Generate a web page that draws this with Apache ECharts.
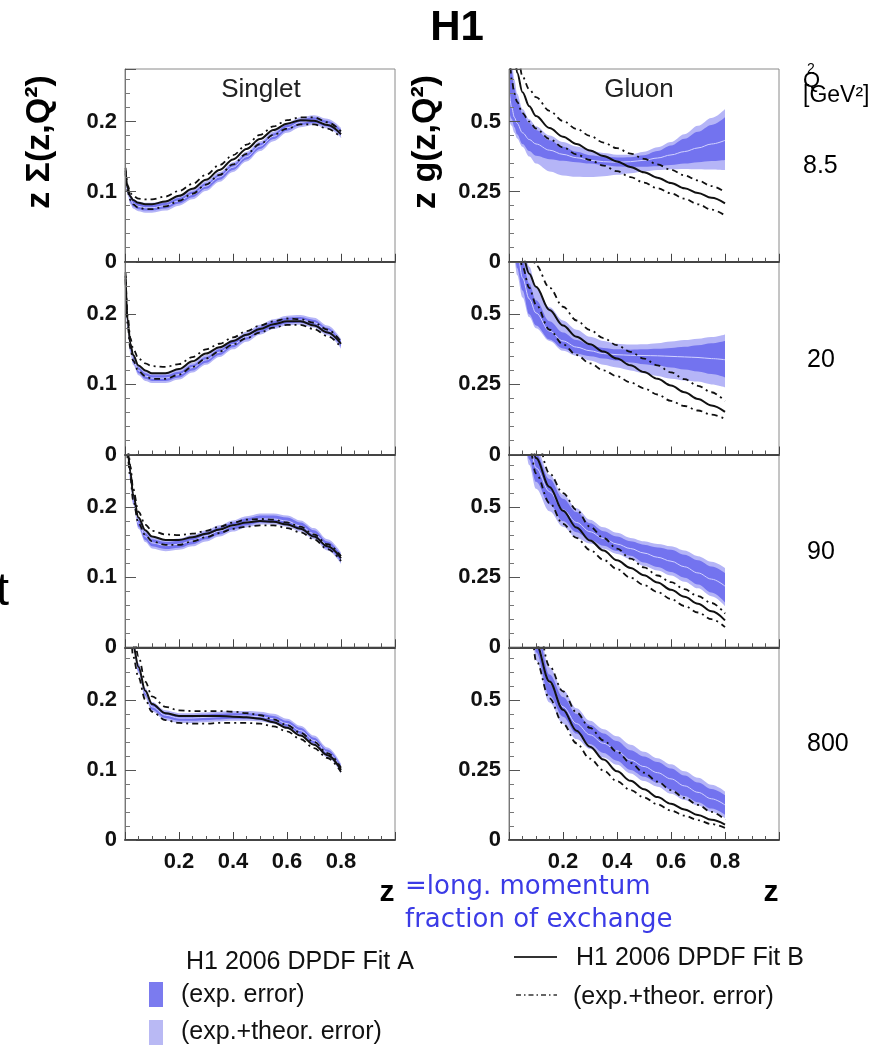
<!DOCTYPE html>
<html><head><meta charset="utf-8">
<script src="https://cdn.jsdelivr.net/npm/echarts@6/dist/echarts.min.js"></script>
<style>html,body{margin:0;padding:0;background:#fff}#c{width:896px;height:1049px}</style>
</head><body><div id="c"></div>
<script>
// ---------- data ----------
const Z = [0.002, 0.01, 0.02, 0.03, 0.05, 0.075, 0.1, 0.15, 0.2, 0.25, 0.3, 0.35, 0.4, 0.45, 0.5, 0.55, 0.6, 0.65, 0.7, 0.75, 0.8];
const xTickLabels = ['0.2', '0.4', '0.6', '0.8'];
const singletTickLabels = ['0', '0.1', '0.2'];
const gluonTickLabels = ['0', '0.25', '0.5'];
const q2Values = ['8.5', '20', '90', '800'];

// Singlet, Q2 = 8.5
const s1_aMid   = [0.128,0.102,0.089,0.083,0.079,0.077,0.077,0.080,0.087,0.096,0.108,0.121,0.135,0.150,0.165,0.179,0.191,0.199,0.202,0.197,0.184];
const s1_aExpLo = [0.124,0.098,0.085,0.079,0.075,0.073,0.073,0.076,0.083,0.092,0.104,0.117,0.131,0.146,0.161,0.175,0.187,0.195,0.198,0.193,0.180];
const s1_aExpHi = [0.132,0.106,0.093,0.087,0.083,0.081,0.081,0.084,0.091,0.100,0.112,0.125,0.139,0.154,0.169,0.183,0.195,0.203,0.206,0.201,0.188];
const s1_aTotLo = [0.121,0.095,0.082,0.076,0.072,0.070,0.070,0.073,0.080,0.089,0.101,0.114,0.128,0.143,0.158,0.172,0.184,0.192,0.195,0.190,0.177];
const s1_aTotHi = [0.135,0.109,0.096,0.090,0.086,0.084,0.084,0.087,0.094,0.103,0.115,0.128,0.142,0.157,0.172,0.186,0.198,0.206,0.209,0.204,0.191];
const s1_bMid   = [0.130,0.105,0.093,0.088,0.084,0.082,0.082,0.086,0.094,0.104,0.117,0.131,0.146,0.161,0.175,0.188,0.197,0.202,0.201,0.195,0.182];
const s1_bHi    = [0.134,0.109,0.098,0.094,0.090,0.089,0.089,0.093,0.101,0.111,0.124,0.138,0.152,0.167,0.181,0.193,0.202,0.206,0.206,0.199,0.186];
const s1_bLo    = [0.126,0.100,0.088,0.082,0.077,0.075,0.075,0.079,0.087,0.097,0.110,0.124,0.139,0.154,0.168,0.181,0.190,0.196,0.196,0.190,0.177];

// Singlet, Q2 = 20
const s2_aMid   = [0.250,0.185,0.152,0.135,0.120,0.112,0.109,0.109,0.114,0.124,0.135,0.146,0.157,0.168,0.178,0.186,0.191,0.192,0.188,0.177,0.158];
const s2_aExpLo = [0.246,0.181,0.148,0.131,0.116,0.108,0.105,0.105,0.110,0.120,0.131,0.142,0.153,0.164,0.174,0.182,0.187,0.188,0.184,0.173,0.154];
const s2_aExpHi = [0.254,0.189,0.156,0.139,0.124,0.116,0.113,0.113,0.118,0.128,0.139,0.150,0.161,0.172,0.182,0.190,0.195,0.196,0.192,0.181,0.162];
const s2_aTotLo = [0.243,0.178,0.145,0.128,0.113,0.105,0.102,0.102,0.107,0.117,0.128,0.139,0.150,0.161,0.171,0.179,0.184,0.185,0.181,0.170,0.151];
const s2_aTotHi = [0.257,0.192,0.159,0.142,0.127,0.119,0.116,0.116,0.121,0.131,0.142,0.153,0.164,0.175,0.185,0.193,0.198,0.199,0.195,0.184,0.165];
const s2_bMid   = [0.255,0.190,0.158,0.142,0.127,0.120,0.116,0.116,0.122,0.133,0.144,0.153,0.162,0.171,0.179,0.186,0.190,0.190,0.184,0.174,0.158];
const s2_bHi    = [0.260,0.196,0.166,0.151,0.137,0.130,0.126,0.125,0.129,0.139,0.150,0.158,0.167,0.176,0.184,0.190,0.194,0.193,0.188,0.178,0.161];
const s2_bLo    = [0.250,0.184,0.151,0.134,0.119,0.112,0.108,0.108,0.114,0.125,0.137,0.147,0.157,0.166,0.174,0.181,0.185,0.185,0.179,0.169,0.153];

// Singlet, Q2 = 90
const s3_aMid   = [0.320,0.280,0.245,0.212,0.177,0.158,0.149,0.145,0.147,0.152,0.159,0.166,0.173,0.179,0.183,0.183,0.180,0.173,0.162,0.146,0.127];
const s3_aExpLo = [0.315,0.275,0.240,0.207,0.172,0.153,0.144,0.140,0.142,0.147,0.154,0.161,0.168,0.174,0.178,0.178,0.175,0.168,0.157,0.141,0.122];
const s3_aExpHi = [0.325,0.285,0.250,0.217,0.182,0.163,0.154,0.150,0.152,0.157,0.164,0.171,0.178,0.184,0.188,0.188,0.185,0.178,0.167,0.151,0.132];
const s3_aTotLo = [0.312,0.272,0.237,0.204,0.169,0.150,0.141,0.137,0.139,0.144,0.151,0.158,0.165,0.171,0.175,0.175,0.172,0.165,0.154,0.138,0.119];
const s3_aTotHi = [0.328,0.288,0.253,0.220,0.185,0.166,0.157,0.153,0.155,0.160,0.167,0.174,0.181,0.187,0.191,0.191,0.188,0.181,0.170,0.154,0.135];
const s3_bMid   = [0.320,0.280,0.250,0.218,0.185,0.167,0.158,0.153,0.153,0.157,0.162,0.168,0.174,0.178,0.180,0.179,0.175,0.169,0.158,0.144,0.127];
const s3_bHi    = [0.330,0.290,0.258,0.226,0.193,0.175,0.166,0.161,0.160,0.162,0.166,0.172,0.178,0.182,0.183,0.182,0.178,0.172,0.161,0.147,0.130];
const s3_bLo    = [0.310,0.270,0.242,0.210,0.177,0.160,0.151,0.146,0.146,0.151,0.157,0.163,0.169,0.172,0.174,0.174,0.170,0.164,0.154,0.140,0.123];

// Singlet, Q2 = 800
const s4_aMid   = [0.500,0.400,0.320,0.280,0.245,0.210,0.190,0.178,0.174,0.174,0.175,0.176,0.177,0.177,0.176,0.173,0.166,0.156,0.142,0.125,0.102];
const s4_aExpLo = [0.496,0.396,0.316,0.276,0.241,0.206,0.186,0.174,0.170,0.170,0.171,0.172,0.173,0.173,0.172,0.169,0.162,0.152,0.138,0.121,0.098];
const s4_aExpHi = [0.504,0.404,0.324,0.284,0.249,0.214,0.194,0.182,0.178,0.178,0.179,0.180,0.181,0.181,0.180,0.177,0.170,0.160,0.146,0.129,0.106];
const s4_aTotLo = [0.493,0.393,0.313,0.273,0.238,0.203,0.183,0.171,0.167,0.167,0.168,0.169,0.170,0.170,0.169,0.166,0.159,0.149,0.135,0.118,0.095];
const s4_aTotHi = [0.507,0.407,0.327,0.287,0.252,0.217,0.197,0.185,0.181,0.181,0.182,0.183,0.184,0.184,0.183,0.180,0.173,0.163,0.149,0.132,0.109];
const s4_bMid   = [0.500,0.400,0.320,0.278,0.247,0.213,0.194,0.181,0.177,0.177,0.177,0.177,0.176,0.175,0.173,0.168,0.160,0.149,0.136,0.121,0.100];
const s4_bHi    = [0.520,0.420,0.340,0.295,0.262,0.226,0.205,0.190,0.185,0.184,0.184,0.184,0.183,0.181,0.178,0.172,0.164,0.153,0.140,0.124,0.103];
const s4_bLo    = [0.480,0.380,0.300,0.262,0.232,0.200,0.183,0.171,0.167,0.166,0.166,0.167,0.167,0.167,0.166,0.162,0.155,0.144,0.131,0.117,0.097];

// Gluon, Q2 = 8.5
const g1_aMid   = [0.60,0.55,0.515,0.494,0.46,0.436,0.42,0.398,0.383,0.371,0.362,0.357,0.355,0.357,0.362,0.370,0.381,0.393,0.406,0.420,0.433];
const g1_aExpLo = [0.53,0.51,0.48,0.455,0.42,0.395,0.378,0.366,0.36,0.355,0.35,0.345,0.34,0.339,0.339,0.341,0.345,0.35,0.355,0.359,0.363];
const g1_aExpHi = [0.75,0.68,0.62,0.58,0.53,0.495,0.47,0.433,0.41,0.392,0.38,0.375,0.372,0.373,0.38,0.395,0.415,0.439,0.464,0.488,0.515];
const g1_aTotLo = [0.50,0.485,0.46,0.44,0.41,0.375,0.35,0.322,0.308,0.303,0.302,0.305,0.31,0.316,0.322,0.327,0.33,0.331,0.33,0.329,0.327];
const g1_aTotHi = [0.80,0.72,0.65,0.60,0.545,0.508,0.483,0.45,0.427,0.411,0.398,0.388,0.382,0.382,0.392,0.408,0.427,0.455,0.485,0.513,0.545];
const g1_bMid   = [1.10,0.90,0.75,0.675,0.605,0.555,0.52,0.477,0.446,0.42,0.397,0.377,0.358,0.338,0.319,0.30,0.281,0.262,0.245,0.228,0.208];
const g1_bHi    = [1.20,1.00,0.85,0.76,0.66,0.615,0.587,0.538,0.502,0.474,0.449,0.425,0.405,0.386,0.367,0.347,0.328,0.308,0.29,0.27,0.248];
const g1_bLo    = [0.75,0.65,0.60,0.57,0.53,0.50,0.475,0.438,0.408,0.383,0.363,0.343,0.323,0.302,0.282,0.262,0.244,0.225,0.205,0.186,0.165];

// Gluon, Q2 = 20
const g2_aMid   = [1.10,0.92,0.80,0.73,0.63,0.555,0.505,0.44,0.405,0.383,0.37,0.36,0.356,0.354,0.353,0.352,0.35,0.348,0.346,0.342,0.338];
const g2_aExpLo = [0.95,0.82,0.72,0.665,0.585,0.50,0.46,0.41,0.378,0.36,0.35,0.342,0.335,0.328,0.322,0.317,0.31,0.303,0.296,0.287,0.275];
const g2_aExpHi = [1.25,1.02,0.88,0.80,0.69,0.61,0.55,0.475,0.435,0.408,0.39,0.38,0.375,0.374,0.375,0.377,0.38,0.384,0.39,0.397,0.405];
const g2_aTotLo = [0.90,0.78,0.69,0.64,0.56,0.49,0.45,0.405,0.37,0.352,0.335,0.32,0.31,0.30,0.29,0.28,0.27,0.264,0.26,0.25,0.24];
const g2_aTotHi = [1.40,1.15,0.98,0.88,0.76,0.67,0.60,0.525,0.478,0.445,0.42,0.405,0.395,0.392,0.393,0.397,0.403,0.408,0.413,0.419,0.428];
const g2_bMid   = [1.20,1.05,0.93,0.84,0.71,0.645,0.598,0.515,0.46,0.42,0.393,0.367,0.342,0.318,0.294,0.27,0.246,0.222,0.198,0.175,0.152];
const g2_bHi    = [1.40,1.25,1.12,1.02,0.88,0.76,0.675,0.595,0.527,0.478,0.444,0.415,0.39,0.366,0.342,0.318,0.293,0.269,0.245,0.222,0.19];
const g2_bLo    = [1.00,0.90,0.81,0.75,0.67,0.595,0.535,0.445,0.393,0.355,0.325,0.30,0.279,0.257,0.236,0.214,0.191,0.173,0.157,0.142,0.127];

// Gluon, Q2 = 90
const g3_aMid   = [2.0,1.7,1.4,1.2,0.9,0.73,0.64,0.555,0.49,0.445,0.412,0.388,0.368,0.352,0.336,0.321,0.307,0.287,0.265,0.243,0.218];
const g3_aExpLo = [1.85,1.55,1.3,1.1,0.82,0.67,0.59,0.51,0.45,0.41,0.383,0.362,0.343,0.326,0.302,0.286,0.268,0.248,0.224,0.195,0.16];
const g3_aExpHi = [2.15,1.85,1.55,1.3,0.98,0.79,0.69,0.60,0.53,0.482,0.442,0.414,0.395,0.378,0.366,0.356,0.348,0.33,0.31,0.288,0.265];
const g3_aTotLo = [1.8,1.5,1.25,1.05,0.78,0.65,0.565,0.485,0.43,0.39,0.37,0.351,0.333,0.315,0.29,0.274,0.256,0.234,0.21,0.182,0.147];
const g3_aTotHi = [2.2,1.9,1.6,1.35,1.02,0.82,0.71,0.615,0.545,0.496,0.455,0.428,0.408,0.39,0.378,0.368,0.36,0.345,0.325,0.305,0.283];
const g3_bMid   = [2.0,1.8,1.55,1.35,1.05,0.82,0.675,0.572,0.487,0.427,0.381,0.345,0.31,0.283,0.257,0.231,0.205,0.18,0.155,0.128,0.096];
const g3_bHi    = [2.4,2.1,1.8,1.55,1.2,0.92,0.75,0.62,0.55,0.49,0.43,0.39,0.352,0.316,0.285,0.256,0.232,0.207,0.182,0.158,0.12];
const g3_bLo    = [1.6,1.45,1.25,1.1,0.88,0.72,0.62,0.515,0.44,0.39,0.347,0.312,0.279,0.248,0.222,0.197,0.172,0.147,0.124,0.10,0.072];

// Gluon, Q2 = 800
const g4_aMid   = [3.0,2.6,2.2,1.9,1.4,1.0,0.72,0.56,0.475,0.415,0.375,0.345,0.318,0.285,0.262,0.24,0.218,0.193,0.17,0.147,0.125];
const g4_aExpLo = [2.9,2.5,2.1,1.8,1.33,0.95,0.67,0.515,0.44,0.38,0.342,0.31,0.283,0.25,0.226,0.205,0.18,0.157,0.135,0.112,0.09];
const g4_aExpHi = [3.1,2.7,2.3,2.0,1.47,1.05,0.77,0.59,0.51,0.45,0.41,0.38,0.353,0.32,0.298,0.278,0.255,0.23,0.205,0.182,0.16];
const g4_aTotLo = [2.8,2.4,2.0,1.7,1.25,0.9,0.64,0.49,0.415,0.36,0.325,0.294,0.268,0.237,0.21,0.19,0.165,0.143,0.123,0.10,0.078];
const g4_aTotHi = [3.2,2.8,2.4,2.1,1.55,1.1,0.80,0.615,0.535,0.47,0.425,0.395,0.37,0.34,0.315,0.292,0.27,0.245,0.222,0.197,0.173];
const g4_bMid   = [3.0,2.6,2.2,1.9,1.45,1.0,0.70,0.565,0.465,0.39,0.333,0.287,0.245,0.211,0.181,0.153,0.129,0.109,0.089,0.072,0.055];
const g4_bHi    = [3.2,2.8,2.4,2.1,1.65,1.15,0.80,0.62,0.53,0.455,0.40,0.355,0.315,0.275,0.24,0.208,0.178,0.15,0.125,0.10,0.072];
const g4_bLo    = [2.6,2.3,1.95,1.7,1.25,0.85,0.64,0.505,0.415,0.345,0.29,0.248,0.21,0.178,0.152,0.127,0.105,0.087,0.071,0.057,0.043];

// ---------- layout / style ----------
const FONT = '"Liberation Sans", Arial, sans-serif';
const DARK = '#7373ef', LIGHT = '#b5b5f7', AMID = '#d2d2ff';
const rowTop = [69, 261.75, 454.5, 647.25], rowH = 192.75;
const colLeft = [125, 509], colW = 270;

const panels = [
  {row:0,col:0,aMid:s1_aMid,aExpLo:s1_aExpLo,aExpHi:s1_aExpHi,aTotLo:s1_aTotLo,aTotHi:s1_aTotHi,bMid:s1_bMid,bHi:s1_bHi,bLo:s1_bLo},
  {row:1,col:0,aMid:s2_aMid,aExpLo:s2_aExpLo,aExpHi:s2_aExpHi,aTotLo:s2_aTotLo,aTotHi:s2_aTotHi,bMid:s2_bMid,bHi:s2_bHi,bLo:s2_bLo},
  {row:2,col:0,aMid:s3_aMid,aExpLo:s3_aExpLo,aExpHi:s3_aExpHi,aTotLo:s3_aTotLo,aTotHi:s3_aTotHi,bMid:s3_bMid,bHi:s3_bHi,bLo:s3_bLo},
  {row:3,col:0,aMid:s4_aMid,aExpLo:s4_aExpLo,aExpHi:s4_aExpHi,aTotLo:s4_aTotLo,aTotHi:s4_aTotHi,bMid:s4_bMid,bHi:s4_bHi,bLo:s4_bLo},
  {row:0,col:1,aMid:g1_aMid,aExpLo:g1_aExpLo,aExpHi:g1_aExpHi,aTotLo:g1_aTotLo,aTotHi:g1_aTotHi,bMid:g1_bMid,bHi:g1_bHi,bLo:g1_bLo},
  {row:1,col:1,aMid:g2_aMid,aExpLo:g2_aExpLo,aExpHi:g2_aExpHi,aTotLo:g2_aTotLo,aTotHi:g2_aTotHi,bMid:g2_bMid,bHi:g2_bHi,bLo:g2_bLo},
  {row:2,col:1,aMid:g3_aMid,aExpLo:g3_aExpLo,aExpHi:g3_aExpHi,aTotLo:g3_aTotLo,aTotHi:g3_aTotHi,bMid:g3_bMid,bHi:g3_bHi,bLo:g3_bLo},
  {row:3,col:1,aMid:g4_aMid,aExpLo:g4_aExpLo,aExpHi:g4_aExpHi,aTotLo:g4_aTotLo,aTotHi:g4_aTotHi,bMid:g4_bMid,bHi:g4_bHi,bLo:g4_bLo}
];

const pts = a => Z.map((z, i) => [z, a[i]]);
const lblSet = (col) => col === 0 ? singletTickLabels : gluonTickLabels;

const grids = [], xAxes = [], yAxes = [], series = [];
panels.forEach((p, k) => {
  grids.push({left: colLeft[p.col], top: rowTop[p.row], width: colW, height: rowH, z: 15,
    show: true, borderColor: '#8a8a8a', borderWidth: 1, backgroundColor: 'transparent'});
  xAxes.push({gridIndex: k, type: 'value', min: 0, max: 1, interval: 0.2, z: 20,
    axisLine: {show: true, onZero: false, lineStyle: {color: '#444', width: 2}},
    axisTick: {show: true, inside: true, length: 8, lineStyle: {color: '#444'}},
    minorTick: {show: true, splitNumber: 4, length: 4, lineStyle: {color: '#555'}},
    splitLine: {show: false},
    axisLabel: {show: p.row === 3, margin: 11, fontFamily: FONT, fontSize: 22, fontWeight: 'bold', color: '#111',
      formatter: v => { const s = v.toFixed(1); return xTickLabels.indexOf(s) >= 0 ? s : ''; }}
  });
  const labels = lblSet(p.col);
  yAxes.push({gridIndex: k, type: 'value', min: 0, z: 20,
    max: p.col === 0 ? 0.275 : 0.6875, interval: p.col === 0 ? 0.1 : 0.25,
    axisLine: {show: true, lineStyle: {color: '#777', width: 1}},
    axisTick: {show: true, inside: true, length: 11, lineStyle: {color: '#555'}},
    minorTick: {show: true, splitNumber: 5, length: 5, lineStyle: {color: '#777'}},
    splitLine: {show: false},
    axisLabel: {margin: 8, fontFamily: FONT, fontSize: 22, fontWeight: 'bold', color: '#111',
      formatter: v => { const s = String(+v.toFixed(3)); return labels.indexOf(s) >= 0 ? s : ''; }}
  });
  const common = {type: 'line', xAxisIndex: k, yAxisIndex: k, symbol: 'none', showSymbol: false,
    smooth: 0.35, smoothMonotone: 'x', silent: true, clip: true, emphasis: {disabled: true}};
  // bands: layered fills down to the axis (light under tot-upper, dark under exp-upper,
  // light under exp-lower, white under tot-lower)
  const fill = (arr, color, z) => Object.assign({}, common, {data: pts(arr), z: z,
    lineStyle: {opacity: 0, width: 0}, areaStyle: {color: color, opacity: 1, origin: 'start'}});
  series.push(fill(p.aTotHi, LIGHT, 2));
  series.push(fill(p.aExpHi, DARK, 3));
  series.push(fill(p.aExpLo, LIGHT, 4));
  series.push(fill(p.aTotLo, '#ffffff', 5));
  series.push(Object.assign({}, common, {data: pts(p.aMid), lineStyle: {color: AMID, width: 1}, z: 6}));
  series.push(Object.assign({}, common, {data: pts(p.bHi), lineStyle: {color: '#111', width: 1.8, type: [6, 4, 2, 4]}, z: 7}));
  series.push(Object.assign({}, common, {data: pts(p.bLo), lineStyle: {color: '#111', width: 1.8, type: [6, 4, 2, 4]}, z: 7}));
  series.push(Object.assign({}, common, {data: pts(p.bMid), lineStyle: {color: '#111', width: 2}, z: 8}));
});

function txt(text, x, y, font, opts) {
  return Object.assign({type: 'text', x: x, y: y, silent: true, z: 30,
    style: Object.assign({text: text, font: font, fill: '#000', textAlign: 'left', align: 'left',
      textVerticalAlign: 'middle', verticalAlign: 'middle'}, (opts && opts.style) || {})},
    opts && opts.rotation !== undefined ? {rotation: opts.rotation} : {});
}
const C = {style: {textAlign: 'center', align: 'center'}};
const graphics = [
  txt('H1', 457, 28, 'bold 42px ' + FONT, C),
  txt('Singlet', 261, 90, '26px ' + FONT, {style: {textAlign: 'center', align: 'center', fill: '#222'}}),
  txt('Gluon', 639, 90, '26px ' + FONT, {style: {textAlign: 'center', align: 'center', fill: '#222'}}),
  txt('z \u03A3(z,Q\u00B2)', 40, 142, 'bold 34px ' + FONT, {style: {textAlign: 'center', align: 'center'}, rotation: Math.PI / 2}),
  txt('z g(z,Q\u00B2)', 426, 142, 'bold 34px ' + FONT, {style: {textAlign: 'center', align: 'center'}, rotation: Math.PI / 2}),
  txt('Q', 803, 81, '22px ' + FONT),
  txt('2', 807, 69, '14px ' + FONT),
  txt('[GeV\u00B2]', 803, 96, '23px ' + FONT),
  txt(q2Values[0], 803, 166, '25px ' + FONT),
  txt(q2Values[1], 807, 360, '25px ' + FONT),
  txt(q2Values[2], 807, 552, '25px ' + FONT),
  txt(q2Values[3], 807, 744, '25px ' + FONT),
  txt('t', 9, 592, '46px ' + FONT, {style: {textAlign: 'right', align: 'right'}}),
  txt('z', 387, 893, 'bold 30px ' + FONT, C),
  txt('z', 771, 893, 'bold 30px ' + FONT, C),
  txt('=long. momentum', 405, 887, '26px "DejaVu Sans", sans-serif', {style: {fill: '#3b3be6'}}),
  txt('fraction of exchange', 405, 920, '26px "DejaVu Sans", sans-serif', {style: {fill: '#3b3be6'}}),
  txt('H1 2006 DPDF Fit A', 186, 962, '25px ' + FONT, {style: {fill: '#111'}}),
  {type: 'rect', z: 30, shape: {x: 149, y: 982, width: 14, height: 25}, style: {fill: '#7b7bef'}, silent: true},
  txt('(exp. error)', 181, 995, '25px ' + FONT, {style: {fill: '#111'}}),
  {type: 'rect', z: 30, shape: {x: 149, y: 1020, width: 14, height: 25}, style: {fill: '#b9b9f4'}, silent: true},
  txt('(exp.+theor. error)', 181, 1032, '25px ' + FONT, {style: {fill: '#111'}}),
  {type: 'line', z: 30, shape: {x1: 514, y1: 957, x2: 557, y2: 957}, style: {stroke: '#333', lineWidth: 2}, silent: true},
  txt('H1 2006 DPDF Fit B', 576, 958, '25px ' + FONT, {style: {fill: '#111'}}),
  {type: 'line', z: 30, shape: {x1: 516, y1: 995, x2: 557, y2: 995}, style: {stroke: '#333', lineWidth: 1.5, lineDash: [5, 3, 1.5, 3]}, silent: true},
  txt('(exp.+theor. error)', 573, 997, '25px ' + FONT, {style: {fill: '#111'}})
];

const chart = echarts.init(document.getElementById('c'), null, {renderer: 'canvas'});
chart.setOption({
  animation: false,
  backgroundColor: '#fff',
  grid: grids, xAxis: xAxes, yAxis: yAxes, series: series,
  graphic: {elements: graphics}
});
</script>
</body></html>
